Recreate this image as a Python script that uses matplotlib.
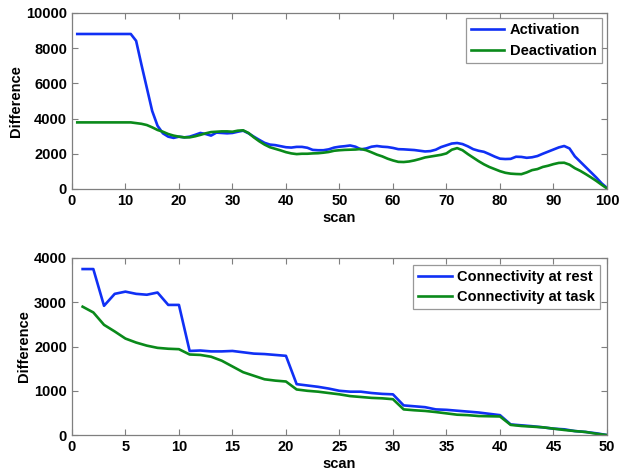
"""Difference per scan: activation/deactivation and connectivity rest/task"""

import numpy as np
import matplotlib
matplotlib.use("Agg")
import matplotlib.pyplot as plt

plt.rcParams['font.family'] = ['Liberation Sans', 'DejaVu Sans']
plt.rcParams['font.weight'] = 'bold'

# top panel, scans 1..100
scan_top = np.arange(1, 101)
activation = [
    8800, 8800, 8800, 8800, 8800, 8800, 8800, 8800, 8800, 8800,
    8800, 8410, 7050, 5740, 4430, 3590, 3160, 2970, 2900, 2970,
    2930, 2970, 3070, 3180, 3120, 3030, 3200, 3180, 3160, 3180,
    3250, 3310, 3160, 2970, 2790, 2620, 2520, 2490, 2430, 2370,
    2350, 2390, 2390, 2340, 2220, 2200, 2200, 2250, 2350, 2400,
    2430, 2470, 2400, 2250, 2300, 2400, 2440, 2400, 2380, 2330,
    2260, 2250, 2230, 2210, 2170, 2130, 2150, 2230, 2380, 2480,
    2580, 2610, 2550, 2420, 2260, 2170, 2110, 1980, 1840, 1720,
    1700, 1710, 1830, 1820, 1770, 1800, 1870, 2000, 2120, 2240,
    2360, 2440, 2300, 1850, 1550, 1250, 950, 650, 320, 60,
]
deactivation = [
    3780, 3780, 3780, 3780, 3780, 3780, 3780, 3780, 3780, 3780,
    3780, 3740, 3700, 3630, 3500, 3350, 3250, 3120, 3030, 2970,
    2930, 2930, 2990, 3070, 3160, 3230, 3250, 3270, 3270, 3250,
    3310, 3330, 3180, 2930, 2710, 2520, 2370, 2280, 2190, 2090,
    2020, 1980, 2000, 2000, 2020, 2030, 2060, 2100, 2170, 2200,
    2220, 2230, 2240, 2270, 2200, 2080, 1950, 1850, 1720, 1620,
    1540, 1530, 1560, 1620, 1700, 1790, 1840, 1890, 1940, 2020,
    2230, 2320, 2200, 1980, 1780, 1580, 1400, 1250, 1130, 1010,
    920, 870, 850, 840, 940, 1070, 1130, 1250, 1320, 1410,
    1480, 1490, 1380, 1180, 1030, 850, 660, 460, 240, 30,
]

# bottom panel, scans 1..50
scan_bot = np.arange(1, 51)
conn_rest = [
    3750, 3750, 2920, 3190, 3240, 3190, 3170, 3220, 2940, 2940,
    1900, 1910, 1890, 1890, 1900, 1870, 1840, 1830, 1810, 1790,
    1150, 1120, 1090, 1050, 1000, 980, 980, 950, 930, 920,
    670, 650, 630, 580, 570, 550, 530, 510, 480, 450,
    240, 220, 200, 175, 145, 130, 90, 70, 40, 0,
]
conn_task = [
    2900, 2770, 2490, 2340, 2180, 2090, 2020, 1970, 1950, 1940,
    1820, 1810, 1770, 1680, 1550, 1420, 1340, 1260, 1230, 1210,
    1030, 1000, 980, 950, 920, 880, 860, 840, 830, 810,
    580, 560, 545, 520, 490, 460, 450, 430, 425, 420,
    230, 205, 190, 175, 145, 115, 90, 70, 30, 0,
]

BLUE = '#1030f5'
GREEN = '#0a8a1a'
EDGE = '#7f7f7f'


def style_axes(ax):
    for s in ax.spines.values():
        s.set_color(EDGE)
        s.set_linewidth(0.9)
    ax.tick_params(direction='in', top=True, right=True, length=4,
                   color=EDGE, labelsize=10.5)
    for lab in ax.get_xticklabels() + ax.get_yticklabels():
        lab.set_fontweight('bold')


def add_legend(ax, pad):
    leg = ax.legend(loc='upper right', fontsize=10.5, frameon=True, fancybox=False,
                    borderaxespad=pad, handlelength=2.3, borderpad=0.35,
                    labelspacing=0.45, handletextpad=0.4)
    leg.get_frame().set_edgecolor(EDGE)
    leg.get_frame().set_linewidth(0.9)
    return leg


fig = plt.figure(figsize=(6.2, 4.76), dpi=100)
ax1 = fig.add_axes([0.116, 0.603, 0.863, 0.370])
ax2 = fig.add_axes([0.116, 0.086, 0.863, 0.372])

ax1.plot(scan_top, activation, color=BLUE, lw=1.9, label='Activation')
ax1.plot(scan_top, deactivation, color=GREEN, lw=1.9, label='Deactivation')
ax1.set_xlim(0, 100)
ax1.set_ylim(0, 10000)
ax1.set_xticks(range(0, 101, 10))
ax1.set_yticks(range(0, 10001, 2000))
ax1.set_xlabel('scan', fontsize=10.5, fontweight='bold', labelpad=2)
ax1.set_ylabel('Difference', fontsize=10.5, fontweight='bold', labelpad=2)
style_axes(ax1)
add_legend(ax1, 0.35)

ax2.plot(scan_bot, conn_rest, color=BLUE, lw=1.9, label='Connectivity at rest')
ax2.plot(scan_bot, conn_task, color=GREEN, lw=1.9, label='Connectivity at task')
ax2.set_xlim(0, 50)
ax2.set_ylim(0, 4000)
ax2.set_xticks(range(0, 51, 5))
ax2.set_yticks(range(0, 4001, 1000))
ax2.set_xlabel('scan', fontsize=10.5, fontweight='bold', labelpad=2)
ax2.set_ylabel('Difference', fontsize=10.5, fontweight='bold', labelpad=2)
style_axes(ax2)
add_legend(ax2, 0.45)

plt.savefig('out.png', dpi=100)
